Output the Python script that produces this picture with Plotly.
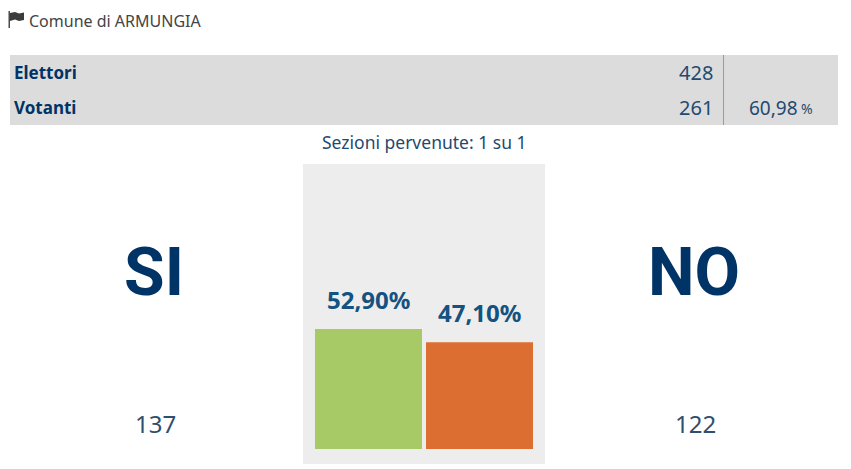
import plotly.graph_objects as go

W, H = 851, 469
FONT = "Noto Sans"
BIG_FONT = "Roboto, sans-serif"
NAVY = "#003366"
BAR_TEXT = "#15527f"

title = "Comune di ARMUNGIA"
row_labels = ["Elettori", "Votanti"]
row_values = ["428", "261"]
turnout = "60,98"
turnout_unit = "%"
sections = "Sezioni pervenute: 1 su 1"
categories = ["SI", "NO"]
percentages = [52.90, 47.10]
percent_labels = ["52,90%", "47,10%"]
votes = ["137", "122"]
bar_colors = ["#a7c966", "#db6e30"]


def fx(x):
    return x / W


def fy(y):
    return 1 - y / H


def text(x, y, s, size, color, weight=400, anchor="center", family=FONT):
    return dict(
        xref="paper", yref="paper", x=fx(x), y=fy(y), text=s, showarrow=False,
        xanchor=anchor, yanchor="middle",
        font=dict(family=family, size=size, color=color, weight=weight),
    )


def rect(x0, y0, x1, y1, color):
    return dict(
        type="rect", xref="paper", yref="paper", layer="below",
        x0=fx(x0), x1=fx(x1), y0=fy(y0), y1=fy(y1),
        fillcolor=color, line=dict(width=0),
    )


fig = go.Figure(
    go.Bar(
        x=categories,
        y=percentages,
        marker=dict(color=bar_colors, line=dict(width=0)),
        hoverinfo="skip",
    )
)

shapes = [
    rect(10, 55, 838, 125, "#dcdcdc"),
    rect(723, 55, 724, 125, "#9a9a9a"),
    rect(8.5, 11, 10, 28, "#4a4a4a"),
    dict(
        type="path", xref="paper", yref="paper",
        path=(
            f"M {fx(10)} {fy(13)} L {fx(15)} {fy(12)} L {fx(19)} {fy(13.5)} L {fx(24)} {fy(12.5)} "
            f"L {fx(24)} {fy(20)} L {fx(19)} {fy(21)} L {fx(15)} {fy(19.5)} L {fx(10)} {fy(21)} Z"
        ),
        fillcolor="#3c3c3c", line=dict(width=0),
    ),
]

annotations = [
    text(27, 21, title, 16, "#444444", anchor="left"),
    text(12, 72.5, row_labels[0], 17, NAVY, 700, "left"),
    text(12, 107.5, row_labels[1], 17, NAVY, 700, "left"),
    text(715, 72.5, row_values[0], 20, "#1f4a70", anchor="right"),
    text(715, 107.5, row_values[1], 20, "#1f4a70", anchor="right"),
    text(747, 108, turnout, 19, "#1f4a70", anchor="left"),
    text(815, 109, turnout_unit, 14, "#1f4a70", anchor="right"),
    text(424, 142.5, sections, 17.5, "#1f4a70"),
    text(154, 272, categories[0], 66, NAVY, 700, family=BIG_FONT),
    text(694, 272, categories[1], 66, NAVY, 700, family=BIG_FONT),
    text(155, 423, votes[0], 24, "#2f4f6f"),
    text(695, 423, votes[1], 24, "#2f4f6f"),
]

for cat, value, label in zip(categories, percentages, percent_labels):
    annotations.append(dict(
        xref="x", yref="y", x=cat, y=value, text=label, showarrow=False,
        xanchor="center", yanchor="middle", yshift=30,
        font=dict(family=FONT, size=24, color=BAR_TEXT, weight=700),
    ))

fig.update_layout(
    width=W, height=H,
    margin=dict(l=0, r=0, t=0, b=0),
    paper_bgcolor="white",
    plot_bgcolor="#ededed",
    showlegend=False,
    bargap=4 / 111,
    shapes=shapes,
    annotations=annotations,
    xaxis=dict(
        domain=[fx(303), fx(545)], range=[-0.59, 1.59], type="category",
        showticklabels=False, showgrid=False, zeroline=False, ticks="",
    ),
    yaxis=dict(
        domain=[fy(464), fy(164)], range=[-6.61, 125.66],
        showticklabels=False, showgrid=False, zeroline=False, ticks="",
    ),
)

fig.write_html(
    "out.html",
    config={"displayModeBar": False},
    post_script="document.body.style.margin='0';",
)
